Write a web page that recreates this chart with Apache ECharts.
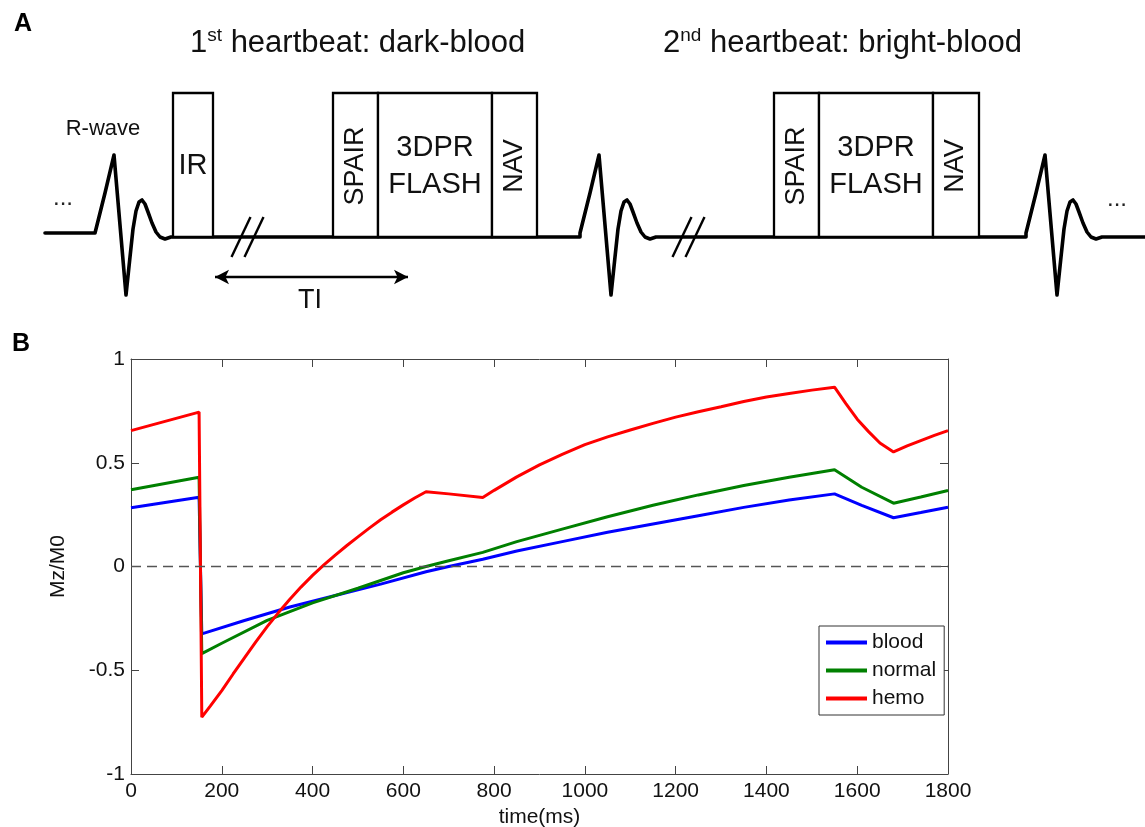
<!DOCTYPE html>
<html>
<head>
<meta charset="utf-8">
<script src="https://cdn.jsdelivr.net/npm/echarts@6/dist/echarts.min.js"></script>
<style>
  html, body { margin: 0; padding: 0; background: #fff; }
  #chart { width: 1145px; height: 827px; }
</style>
</head>
<body>
<div id="chart"></div>
<script>
// ---- panel B: simulated Mz/M0 over one RR pair ----
const bloodT = [0, 150, 156, 250, 350, 450, 550, 650, 700, 775, 850, 950, 1050, 1150, 1250, 1350, 1450, 1550, 1610, 1680, 1740, 1800];
const bloodMz = [0.283, 0.334, -0.325, -0.26, -0.195, -0.14, -0.085, -0.025, 0.0, 0.035, 0.075, 0.12, 0.165, 0.205, 0.245, 0.285, 0.32, 0.35, 0.295, 0.235, 0.26, 0.286];

const normalT = [0, 150, 156, 200, 300, 400, 500, 600, 650, 700, 775, 850, 950, 1050, 1150, 1250, 1350, 1450, 1550, 1610, 1680, 1740, 1800];
const normalMz = [0.37, 0.43, -0.42, -0.37, -0.26, -0.175, -0.105, -0.03, 0.0, 0.028, 0.068, 0.12, 0.18, 0.24, 0.295, 0.345, 0.39, 0.43, 0.466, 0.382, 0.305, 0.335, 0.366];

const hemoT = [0, 150, 156, 175, 200, 225, 250, 275, 300, 325, 350, 375, 400, 425, 450, 475, 500, 525, 550, 575, 600, 625, 650,
  700, 775, 800, 850, 900, 950, 1000, 1050, 1100, 1150, 1200, 1250, 1300, 1350, 1400, 1450, 1500, 1550,
  1575, 1600, 1625, 1650, 1680, 1710, 1740, 1770, 1800];
const hemoMz = [0.655, 0.744, -0.726, -0.672, -0.598, -0.518, -0.44, -0.363, -0.29, -0.222, -0.158, -0.098, -0.043, 0.008, 0.055, 0.1, 0.143, 0.185, 0.225, 0.262, 0.297, 0.33, 0.36,
  0.35, 0.333, 0.367, 0.432, 0.49, 0.54, 0.587, 0.625, 0.658, 0.69, 0.72, 0.746, 0.77, 0.795, 0.817, 0.834, 0.85, 0.864,
  0.785, 0.71, 0.65, 0.595, 0.552, 0.581, 0.607, 0.632, 0.655];

const seriesNames = ['blood', 'normal', 'hemo'];
const seriesColors = ['#0000ff', '#008000', '#ff0000'];
const xTicks = [0, 1800, 200];   // min, max, step
const yTicks = [-1, 1, 0.5];

// ---- panel A: sequence diagram (drawn in a pixel-like 1145 x 330 space) ----
const baseY = 237;
const ecgStarts = [95, 580, 1026];
const ecgDx = [0, 10, 19, 31, 35, 38, 41, 44, 47, 50, 53, 57, 61, 65, 70, 76];
const ecgDy = [-4, -44, -82, 58, 20, -8, -26, -35, -37, -33, -25, -14, -5, 0, 2, 0];
const traceEnds = [45, 1145];

const blockStart = [173, 333, 378, 492, 774, 819, 933];
const blockEnd = [213, 378, 492, 537, 819, 933, 979];
const blockLabel = ['IR', 'SPAIR', '3DPR\nFLASH', 'NAV', 'SPAIR', '3DPR\nFLASH', 'NAV'];
const blockUpright = [true, false, true, false, false, true, false];
const blockTop = 93;

const breakCenters = [248, 689];
const tiArrow = [215, 408, 277];

const font = 'Liberation Sans, Arial, Helvetica, sans-serif';

function zip(xs, ys) { return xs.map((x, i) => [x, ys[i]]); }

// one trace: flat lead-in, three QRS complexes joined by the baseline
const trace = [[traceEnds[0], baseY + ecgDy[0]]];
ecgStarts.forEach((s, k) => {
  if (k > 0) trace.push([s, baseY]);
  ecgDx.forEach((dx, i) => trace.push([s + dx, baseY + ecgDy[i]]));
});
trace.push([traceEnds[1], baseY]);

const chart = echarts.init(document.getElementById('chart'), null, { renderer: 'canvas' });

const bAxisLine = { show: true, onZero: false, lineStyle: { color: '#444', width: 1 } };
const bTick = { show: true, inside: true, length: 8, lineStyle: { color: '#444', width: 1 } };
const bLabel = { fontFamily: font, fontSize: 21, color: '#111', formatter: v => String(v) };

const titleRich = {
  n: { fontFamily: font, fontSize: 31, lineHeight: 35, color: '#111' },
  s: { fontFamily: font, fontSize: 19, lineHeight: 19, verticalAlign: 'top', color: '#111' }
};

chart.setOption({
  backgroundColor: '#fff',
  animation: false,
  grid: [
    { left: 0, top: 0, width: 1145, height: 330, outerBoundsMode: 'none' },
    { left: 131, right: 197, top: 359, bottom: 53, outerBoundsMode: 'none' }
  ],
  xAxis: [
    { type: 'value', gridIndex: 0, min: 0, max: 1145, show: false },
    {
      type: 'value', gridIndex: 1, position: 'bottom',
      min: xTicks[0], max: xTicks[1], interval: xTicks[2],
      axisLine: bAxisLine, axisTick: bTick, splitLine: { show: false },
      axisLabel: Object.assign({ margin: 7 }, bLabel),
      name: 'time(ms)', nameLocation: 'middle', nameGap: 32,
      nameTextStyle: { fontFamily: font, fontSize: 21, color: '#111' }
    },
    {
      type: 'value', gridIndex: 1, position: 'top',
      min: xTicks[0], max: xTicks[1], interval: xTicks[2],
      axisLine: bAxisLine, axisTick: bTick, splitLine: { show: false },
      axisLabel: { show: false }
    }
  ],
  yAxis: [
    { type: 'value', gridIndex: 0, min: 0, max: 330, inverse: true, show: false },
    {
      type: 'value', gridIndex: 1, position: 'left',
      min: yTicks[0], max: yTicks[1], interval: yTicks[2],
      axisLine: bAxisLine, axisTick: bTick, splitLine: { show: false },
      axisLabel: Object.assign({ margin: 6 }, bLabel),
      name: 'Mz/M0', nameLocation: 'middle', nameGap: 62, nameRotate: 90,
      nameTextStyle: { fontFamily: font, fontSize: 21, color: '#111' }
    },
    {
      type: 'value', gridIndex: 1, position: 'right',
      min: yTicks[0], max: yTicks[1], interval: yTicks[2],
      axisLine: bAxisLine, axisTick: bTick, splitLine: { show: false },
      axisLabel: { show: false }
    }
  ],
  legend: {
    data: seriesNames,
    orient: 'vertical',
    left: 819, top: 626,
    padding: [6, 8, 6, 7],
    itemGap: 7,
    itemWidth: 41, itemHeight: 4,
    icon: 'rect',
    selectedMode: false,
    borderColor: '#333', borderWidth: 1, borderRadius: 0,
    backgroundColor: '#fff',
    textStyle: { fontFamily: font, fontSize: 21, color: '#111', lineHeight: 21 }
  },
  graphic: [
    { type: 'text', x: 23, y: 24, style: { text: 'A', font: 'bold 25px ' + font, fill: '#000', align: 'center', verticalAlign: 'middle' } },
    { type: 'text', x: 21, y: 344, style: { text: 'B', font: 'bold 25px ' + font, fill: '#000', align: 'center', verticalAlign: 'middle' } },
    { type: 'text', x: 190, y: 26, style: { text: '{n|1}{s|st}{n| heartbeat: dark-blood}', align: 'left', verticalAlign: 'top', fill: '#111', rich: titleRich } },
    { type: 'text', x: 663, y: 26, style: { text: '{n|2}{s|nd}{n| heartbeat: bright-blood}', align: 'left', verticalAlign: 'top', fill: '#111', rich: titleRich } },
    { type: 'text', x: 103, y: 129, style: { text: 'R-wave', fontFamily: font, fontSize: 22, fill: '#111', align: 'center', verticalAlign: 'middle' } },
    { type: 'text', x: 63, y: 210, style: { text: '...', fontFamily: font, fontSize: 24, fill: '#222', align: 'center', verticalAlign: 'bottom' } },
    { type: 'text', x: 1117, y: 211, style: { text: '...', fontFamily: font, fontSize: 24, fill: '#222', align: 'center', verticalAlign: 'bottom' } },
    { type: 'text', x: 310, y: 301, style: { text: 'TI', fontFamily: font, fontSize: 27, fill: '#111', align: 'center', verticalAlign: 'middle' } }
  ],
  series: [
    // panel A
    {
      type: 'line', xAxisIndex: 0, yAxisIndex: 0,
      data: trace, symbol: 'none', silent: true, z: 1,
      lineStyle: { color: '#000', width: 3.6, join: 'round', cap: 'round' },
      markLine: {
        silent: true, symbol: ['arrow', 'arrow'], symbolSize: [11, 14],
        label: { show: false },
        lineStyle: { color: '#000', width: 2.4, type: 'solid' },
        emphasis: { disabled: true },
        data: [[{ coord: [tiArrow[0], tiArrow[2]] }, { coord: [tiArrow[1], tiArrow[2]] }]]
      }
    },
    {
      type: 'custom', xAxisIndex: 0, yAxisIndex: 0, silent: true, z: 3,
      data: blockStart.map((s, i) => [s, blockEnd[i]]),
      encode: { x: [0, 1] },
      renderItem: (params, api) => {
        const i = params.dataIndex;
        const p0 = api.coord([api.value(0), blockTop]);
        const p1 = api.coord([api.value(1), baseY]);
        const cx = (p0[0] + p1[0]) / 2;
        const upright = blockUpright[i];
        return {
          type: 'group',
          children: [
            { type: 'rect', shape: { x: p0[0], y: p0[1], width: p1[0] - p0[0], height: p1[1] - p0[1] },
              style: { fill: '#fff', stroke: '#000', lineWidth: 2.3 } },
            { type: 'text', x: cx, y: 166, rotation: upright ? 0 : Math.PI / 2,
              style: { text: blockLabel[i], fontFamily: font, fontSize: upright ? 29 : 27, lineHeight: 37,
                       fill: '#111', align: 'center', verticalAlign: 'middle' } }
          ]
        };
      }
    },
    {
      type: 'custom', xAxisIndex: 0, yAxisIndex: 0, silent: true, z: 3,
      data: breakCenters.map(c => [c]),
      encode: { x: 0 },
      renderItem: (params, api) => {
        const c = api.value(0);
        const lines = [-6.5, 6.5].map(off => {
          const a = api.coord([c + off - 10, baseY + 20]);
          const b = api.coord([c + off + 9, baseY - 20]);
          return { type: 'line', shape: { x1: a[0], y1: a[1], x2: b[0], y2: b[1] },
                   style: { stroke: '#000', lineWidth: 2.4 } };
        });
        return { type: 'group', children: lines };
      }
    },
    // panel B
    {
      name: seriesNames[0], type: 'line', xAxisIndex: 1, yAxisIndex: 1,
      data: zip(bloodT, bloodMz), symbol: 'none', silent: true,
      color: seriesColors[0], lineStyle: { color: seriesColors[0], width: 3 },
      markLine: {
        silent: true, symbol: 'none', label: { show: false },
        lineStyle: { color: '#555', width: 1.3, type: [10, 6] },
        emphasis: { disabled: true },
        data: [{ yAxis: 0 }]
      }
    },
    {
      name: seriesNames[1], type: 'line', xAxisIndex: 1, yAxisIndex: 1,
      data: zip(normalT, normalMz), symbol: 'none', silent: true,
      color: seriesColors[1], lineStyle: { color: seriesColors[1], width: 3 }
    },
    {
      name: seriesNames[2], type: 'line', xAxisIndex: 1, yAxisIndex: 1,
      data: zip(hemoT, hemoMz), symbol: 'none', silent: true,
      color: seriesColors[2], lineStyle: { color: seriesColors[2], width: 3 }
    }
  ]
});
</script>
</body>
</html>
